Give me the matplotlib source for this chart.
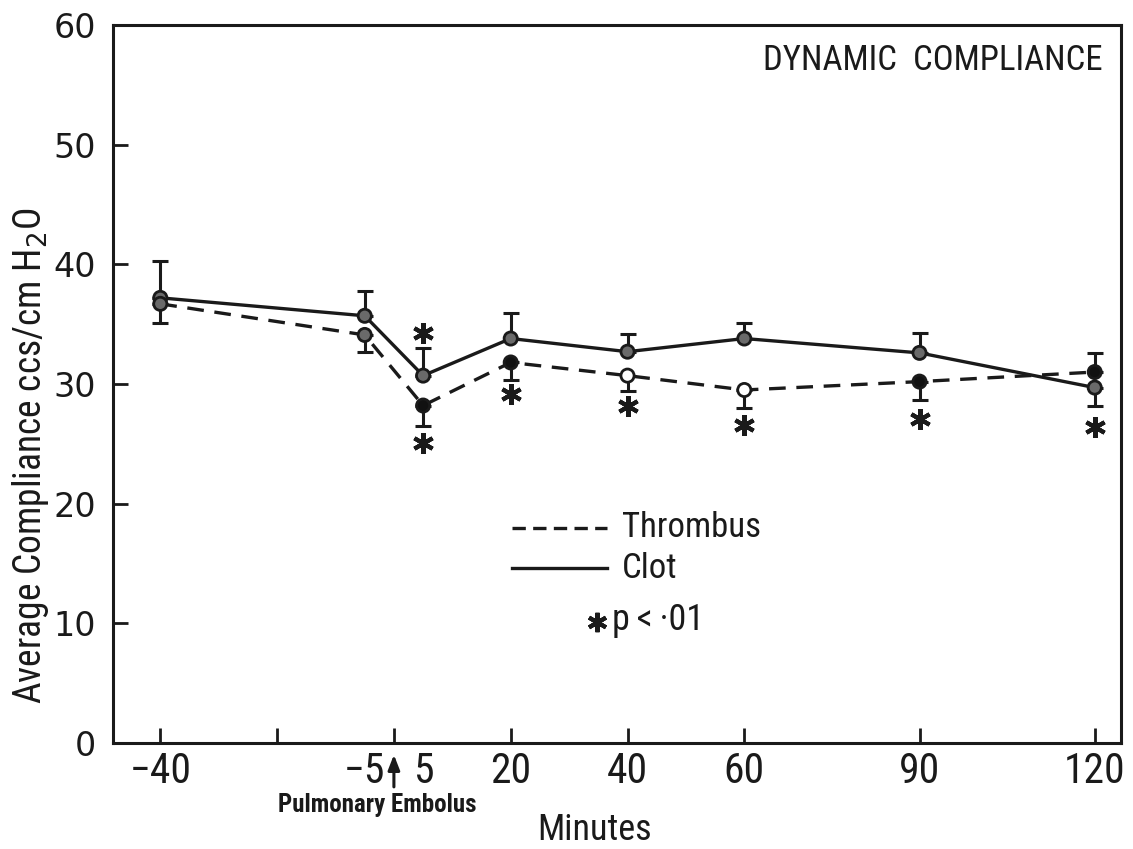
import matplotlib
matplotlib.use("Agg")
import matplotlib.pyplot as plt
from matplotlib import font_manager as fm

# ---------------- data ----------------
minutes = [-40, -5, 5, 20, 40, 60, 90, 120]
tick_positions = [-40, -20, 0, 20, 40, 60, 90, 120]
tick_labels = ["\u221240", "\u22125", "5", "20", "40", "60", "90", "120"]

clot = [37.2, 35.7, 30.7, 33.8, 32.7, 33.8, 32.6, 29.7]
clot_err_up = [3.1, 2.1, 2.3, 2.1, 1.5, 1.3, 1.7, 0.0]
clot_err_down = [0.0, 0.0, 0.0, 0.0, 0.0, 0.0, 0.0, 1.5]

thrombus = [36.7, 34.1, 28.2, 31.8, 30.7, 29.5, 30.2, 31.0]
thrombus_err_up = [0.0, 0.0, 0.0, 0.0, 0.0, 0.0, 0.0, 1.6]
thrombus_err_down = [1.6, 1.4, 1.7, 1.5, 1.3, 1.5, 1.5, 0.0]

sig_x = [5, 5, 20, 40, 60, 90, 120]
sig_y = [34.3, 25.1, 29.2, 28.2, 26.6, 27.1, 26.4]

# marker fills as printed
clot_fill = ["#6a6a6a"] * 8
thrombus_fill = ["#6a6a6a", "#6a6a6a", "#111111", "#111111", "white", "white", "#111111", "#111111"]

# ---------------- fonts ----------------
avail = {f.name for f in fm.fontManager.ttflist}
def pick(*names):
    for n in names:
        if n in avail:
            return n
    return "DejaVu Sans"
narrow = pick("Liberation Sans Narrow", "Roboto Condensed", "Open Sans Condensed", "Roboto", "DejaVu Sans")
plt.rcParams["font.family"] = [narrow, "DejaVu Sans"]

INK = "#1a1a1a"

fig = plt.figure(figsize=(11.33, 8.49), dpi=100)
ax = fig.add_axes([113 / 1133, 1 - 743 / 849, (1121 - 113) / 1133, (743 - 25) / 849])

ax.set_xlim(-48.1, 124.5)
ax.set_ylim(0, 60)

# lines
ax.plot(minutes, clot, color=INK, lw=2.4, zorder=3)
ax.plot(minutes, thrombus, color=INK, lw=2.4, ls=(0, (5, 3.2)), zorder=3)

# error bars
ax.errorbar(minutes, clot, yerr=[clot_err_down, clot_err_up], fmt="none",
            ecolor=INK, elinewidth=2.2, capsize=5.5, capthick=2.2, zorder=2)
ax.errorbar(minutes, thrombus, yerr=[thrombus_err_down, thrombus_err_up], fmt="none",
            ecolor=INK, elinewidth=2.2, capsize=5.5, capthick=2.2, zorder=2)

# markers
ax.scatter(minutes, clot, s=90, c=clot_fill, edgecolors=INK, linewidths=2, zorder=4)
ax.scatter(minutes, thrombus, s=90, c=thrombus_fill, edgecolors=INK, linewidths=2, zorder=4)

# significance asterisks
ax.plot(sig_x, sig_y, ls="none", marker=(6, 2, 0), ms=15, mew=3, color=INK, zorder=4)

# axes styling
for s in ax.spines.values():
    s.set_linewidth(2.2)
    s.set_color(INK)

# tick marks (no labels) on the main axis
ax.set_xticks(tick_positions)
ax.set_xticklabels([])
ax.tick_params(axis="x", direction="in", length=11, width=2, color=INK)

# tick labels at the sampled minutes via a secondary axis
sec = ax.secondary_xaxis("bottom")
sec.set_xticks(minutes)
sec.set_xticklabels(tick_labels, fontsize=30, color=INK)
sec.tick_params(length=0, pad=6)
sec.spines["bottom"].set_visible(False)

ax.set_yticks([0, 10, 20, 30, 40, 50, 60])
ax.set_yticklabels(["0", "10", "20", "30", "40", "50", "60"], fontsize=24,
                   family=["DejaVu Sans"])
ax.tick_params(axis="y", direction="in", length=11, width=2, color=INK, pad=12, labelcolor=INK)

ax.set_ylabel("Average Compliance ccs/cm H$_2$O", fontsize=27, color=INK)
ax.yaxis.set_label_coords(-(113 - 31) / (1121 - 113), 0.40)
ax.yaxis.label.set_va("center")

# title inside
ax.text(0.982, 0.95, "DYNAMIC  COMPLIANCE", transform=ax.transAxes, ha="right",
        va="center", fontsize=25, color=INK)

# pulmonary embolus annotation
ax.annotate("", xy=(0, -0.75), xytext=(0, -3.9), annotation_clip=False,
            arrowprops=dict(arrowstyle="-|>,head_length=0.9,head_width=0.35", color=INK, lw=2.2))
ax.text(-2.9, -5.2, "Pulmonary Embolus", ha="center", va="center", fontsize=18,
        fontweight="bold", color=INK, clip_on=False)
ax.text(34.4, -7.3, "Minutes", ha="center", va="center", fontsize=26, color=INK, clip_on=False)

# legend drawn in data coordinates
ax.plot([20.2, 36.5], [18.0, 18.0], color=INK, lw=2.4, ls=(0, (4, 2.2)))
ax.plot([20.2, 36.5], [14.6, 14.6], color=INK, lw=2.4)
ax.plot([34.8], [10.1], ls="none", marker=(6, 2, 0), ms=14, mew=3, color=INK)
ax.text(39.0, 18.0, "Thrombus", fontsize=25, va="center", ha="left", color=INK)
ax.text(39.0, 14.6, "Clot", fontsize=25, va="center", ha="left", color=INK)
ax.text(37.4, 10.3, "p\u2009<\u2009\u00b701", fontsize=26, va="center", ha="left", color=INK)

fig.savefig("out.png", dpi=100)
